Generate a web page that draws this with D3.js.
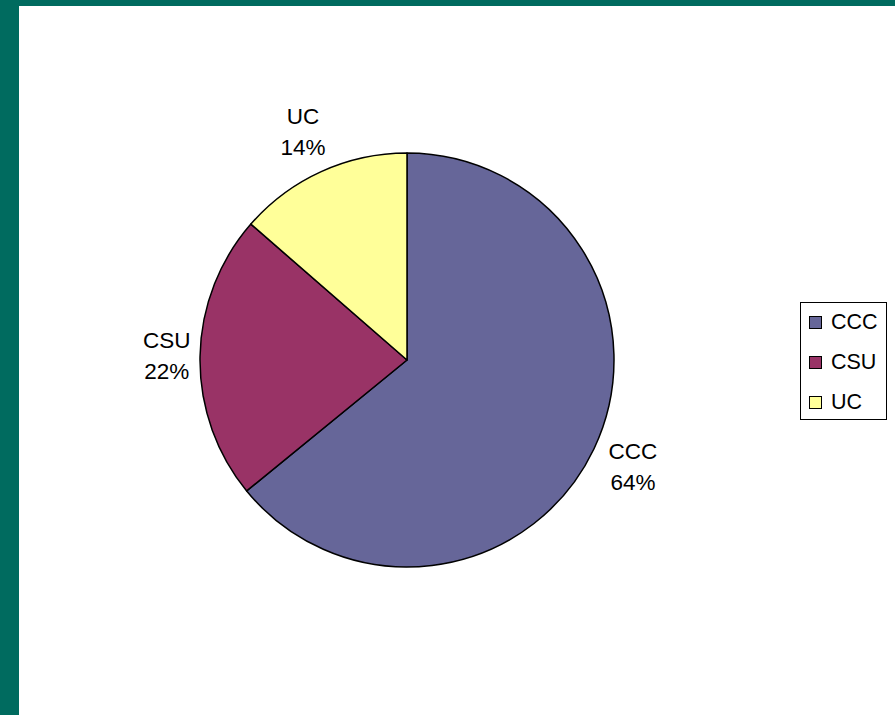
<!DOCTYPE html>
<html><head><meta charset="utf-8">
<script src="https://cdn.jsdelivr.net/npm/d3@7"></script>
<style>html,body{margin:0;padding:0;background:#fff;}svg{display:block;}</style>
</head><body>
<svg id="c" width="895" height="715"></svg>
<script>
const categories = ["CCC", "CSU", "UC"];
const values = [64.1, 22.3, 13.6];
const colors = ["#666699", "#993366", "#FFFF99"];

const svg = d3.select("#c");
svg.append("rect").attr("x",0).attr("y",0).attr("width",895).attr("height",715).attr("fill","#006B5F");
svg.append("rect").attr("x",19).attr("y",6).attr("width",876).attr("height",709).attr("fill","#fff");

const cx = 407, cy = 360, r = 207;
const data = categories.map((c,i)=>({name:c, value:values[i], color:colors[i]}));
const pie = d3.pie().value(d=>d.value).sort(null);
const arcs = pie(data);
const arc = d3.arc().innerRadius(0).outerRadius(r);
const g = svg.append("g").attr("transform",`translate(${cx},${cy})`);
g.selectAll("path").data(arcs).join("path")
  .attr("d",arc).attr("fill",d=>d.data.color)
  .attr("stroke","#000").attr("stroke-width",1.5).attr("stroke-linejoin","round");

const total = d3.sum(values);
const font = "Liberation Sans, Arial, sans-serif";
const gap = 9, lh = 31;
arcs.forEach(d=>{
  const t = g.append("text").attr("text-anchor","middle")
    .attr("font-family",font).attr("font-size",22.5).attr("fill","#000");
  t.append("tspan").attr("x",0).attr("y",0).text(d.data.name);
  t.append("tspan").attr("x",0).attr("y",lh).text(Math.round(d.data.value/total*100)+"%");
  const bb = t.node().getBBox();
  const a = (d.startAngle + d.endAngle)/2;
  const ux = Math.sin(a), uy = -Math.cos(a);
  const sup = Math.abs(ux)*bb.width/2 + Math.abs(uy)*bb.height/2;
  const dist = r + gap + sup;
  const mx = ux*dist, my = uy*dist;
  const bcy = bb.y + bb.height/2;
  t.attr("transform",`translate(${mx},${my - bcy})`);
});

// legend
const lg = svg.append("g");
lg.append("rect").attr("x",800.5).attr("y",302.5).attr("width",86).attr("height",117)
  .attr("fill","#fff").attr("stroke","#000").attr("stroke-width",1);
data.forEach((d,i)=>{
  const y = 329 + i*40;
  lg.append("rect").attr("x",809.5).attr("y",y-12.5).attr("width",12).attr("height",12)
    .attr("fill",d.color).attr("stroke","#000").attr("stroke-width",1);
  lg.append("text").attr("x",831).attr("y",y).attr("font-family",font)
    .attr("font-size",21.5).attr("fill","#000").text(d.name);
});
</script>
</body></html>
